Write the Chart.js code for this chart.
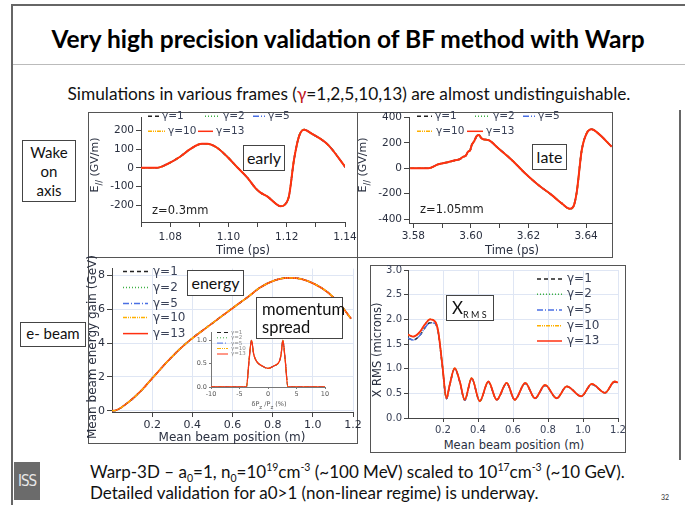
<!DOCTYPE html>
<html>
<head>
<meta charset="utf-8">
<script src="https://cdn.jsdelivr.net/npm/chart.js@4"></script>
<style>
  html, body { margin: 0; padding: 0; background: #fff; }
  #slide { position: relative; width: 685px; height: 505px; overflow: hidden; background: #fff; font-family: Lato, "Open Sans", sans-serif; }
  .abs { position: absolute; white-space: nowrap; }
  .frame { position: absolute; border: 1.5px solid #555; box-sizing: border-box; }
  .tag { position: absolute; border: 1.5px solid #444; background: #fff; box-sizing: border-box; font-family: Lato, sans-serif; color: #111; }
  .ax { position: absolute; white-space: nowrap; font-family: "DejaVu Sans", sans-serif; color: #2a3040; transform: translate(-50%, -50%); }
  .axv { position: absolute; white-space: nowrap; font-family: "DejaVu Sans", sans-serif; color: #2a3040; transform: translate(-50%, -50%) rotate(-90deg); }
  .plot { position: absolute; }
</style>
</head>
<body>
<div id="slide">
  <!-- slide frame -->
  <div class="abs" style="left:11px;top:4px;width:2px;height:501px;background:#666"></div>
  <div class="abs" style="left:11px;top:4px;width:674px;height:2px;background:#666"></div>
  <div class="abs" style="left:13px;top:64px;width:672px;height:1px;background:#bbb"></div>
  <div class="abs" style="left:679px;top:110px;width:1.5px;height:350px;background:#666"></div>

  <div class="abs" style="left:348px;top:38px;transform:translate(-50%,-50%);font-weight:700;font-size:24.5px;color:#000">Very high precision validation of BF method with Warp</div>
  <div class="abs" style="left:349px;top:93px;transform:translate(-50%,-50%);font-size:17.3px;color:#111">Simulations in various frames (<span style="color:#c0141c">γ</span>=1,2,5,10,13) are almost undistinguishable.</div>

  <!-- plot frames -->
  <div class="frame" style="left:88px;top:112px;width:270px;height:146px"></div>
  <div class="frame" style="left:357px;top:112px;width:256px;height:146px"></div>
  <div class="frame" style="left:88px;top:257px;width:270px;height:187px"></div>
  <div class="frame" style="left:370px;top:265px;width:256px;height:188px"></div>

  <div class="tag" style="left:22px;top:140px;width:54px;height:62px;font-size:15px;line-height:19px;text-align:center;padding-top:2px">Wake<br>on<br>axis</div>
  <div class="tag" style="left:20px;top:322px;width:66px;height:25px;font-size:15px;line-height:21px;text-align:center">e- beam</div>

  <div id="p1" class="plot"><canvas></canvas></div>
  <div id="p2" class="plot"><canvas></canvas></div>
  <div id="p3" class="plot"><canvas></canvas></div>
  <div id="p4" class="plot"><canvas></canvas></div>
  <div id="p5" class="plot"><canvas></canvas></div>

  <!-- axis titles -->
  <div class="axv" style="left:96px;top:165px;font-size:11px">E<sub style="font-size:8px">//</sub> (GV/m)</div>
  <div class="ax" style="left:243px;top:250px;font-size:11.5px">Time (ps)</div>
  <div class="axv" style="left:364px;top:165px;font-size:11px">E<sub style="font-size:8px">//</sub> (GV/m)</div>
  <div class="ax" style="left:512px;top:250px;font-size:11.5px">Time (ps)</div>
  <div class="axv" style="left:92px;top:347px;font-size:12px">Mean beam energy gain (GeV)</div>
  <div class="ax" style="left:232px;top:437px;font-size:12px">Mean beam position (m)</div>
  <div class="axv" style="left:377px;top:350px;font-size:11.5px">X RMS (microns)</div>
  <div class="ax" style="left:514px;top:445px;font-size:11.5px">Mean beam position (m)</div>
  <div class="ax" style="left:269px;top:405px;font-size:6.5px;color:#555">δP<sub>z</sub> /P<sub>z</sub>  (%)</div>

  <!-- annotations -->
  <div class="tag" style="left:243px;top:145px;width:42px;height:26px;font-size:16px;line-height:23px;text-align:center">early</div>
  <div class="abs" style="left:152px;top:203px;font-family:'DejaVu Sans',sans-serif;font-size:11.5px;color:#222">z=0.3mm</div>
  <div class="tag" style="left:532px;top:144px;width:35px;height:26px;font-size:16px;line-height:23px;text-align:center">late</div>
  <div class="abs" style="left:420px;top:202px;font-family:'DejaVu Sans',sans-serif;font-size:11.5px;color:#222">z=1.05mm</div>
  <div class="tag" style="left:187px;top:270px;width:57px;height:26px;font-size:16px;line-height:23px;text-align:center">energy</div>
  <div class="tag" style="left:256px;top:297px;width:87px;height:42px;font-size:16.5px;line-height:18px;padding:2px 0 0 5px">momentum<br>spread</div>
  <div class="tag" style="left:446px;top:295px;width:48px;height:26px;font-size:17px;line-height:23px;padding-left:5px">X<span style="font-size:9px;position:relative;top:4px">R M S</span></div>

  <!-- footer -->
  <div class="abs" style="left:90px;top:461px;font-size:17px;color:#111">Warp-3D – a<sub style="font-size:10.5px">0</sub>=1, n<sub style="font-size:10.5px">0</sub>=10<sup style="font-size:10.5px">19</sup>cm<sup style="font-size:10.5px">-3</sup> (~100 MeV) scaled to 10<sup style="font-size:10.5px">17</sup>cm<sup style="font-size:10.5px">-3</sup> (~10 GeV).</div>
  <div class="abs" style="left:90px;top:482px;font-size:17px;color:#111">Detailed validation for a0&gt;1 (non-linear regime) is underway.</div>
  <div class="abs" style="left:14px;top:462px;width:26px;height:38px;background:#6b6b6b;color:#e8e8e8;font-family:'DejaVu Sans Condensed',sans-serif;font-size:15px;line-height:38px;text-align:center;letter-spacing:-1px">ISS</div>
  <div class="abs" style="left:661px;top:493px;font-size:7px;color:#333">32</div>
</div>

<script>
// gamma frames
const gammaLabels = ["γ=1", "γ=2", "γ=5", "γ=10", "γ=13"];

// wake on axis, early (z=0.3mm)
const earlyT = [1.0700, 1.0754, 1.0789, 1.0834, 1.0869, 1.0909, 1.0927, 1.0961, 1.0996, 1.1030, 1.1065, 1.1093, 1.1110, 1.1133, 1.1168, 1.1179, 1.1193, 1.1208, 1.1225, 1.1243, 1.1260, 1.1283, 1.1341, 1.1403];
const earlyE = [0, 0, 19, 59, 100, 128, 128, 107, 59, 3, -53, -109, -133, -153, -198, -206, -198, -149, 43, 172, 204, 185, 124, 0];
const earlyTicks = [1.07, 1.08, 1.09, 1.10, 1.11, 1.12, 1.13, 1.14];
const earlyETicks = [-200, -100, 0, 100, 200];

// wake on axis, late (z=1.05mm)
const lateT = [3.5789, 3.5852, 3.5887, 3.5920, 3.5950, 3.5962, 3.5974, 3.5982, 3.5990, 3.5997, 3.6003, 3.6012, 3.6020, 3.6028, 3.6035, 3.6043, 3.6060, 3.6095, 3.6142, 3.6188, 3.6234, 3.6280, 3.6315, 3.6344, 3.6356, 3.6367, 3.6385, 3.6402, 3.6419, 3.6442, 3.6489];
const lateE = [0, 0, 31, 47, 65, 72, 91, 98, 130, 140, 183, 215, 253, 261, 240, 227, 222, 157, 65, -39, -131, -209, -275, -319, -301, -196, 143, 274, 306, 274, 169];
const lateTicks = [3.58, 3.59, 3.60, 3.61, 3.62, 3.63, 3.64];
const lateETicks = [-400, -200, 0, 200, 400];

// mean beam energy gain
const beamPos = [0, 0.01, 0.074, 0.14, 0.207, 0.274, 0.34, 0.407, 0.474, 0.54, 0.607, 0.674, 0.74, 0.807, 0.874, 0.94, 1.007, 1.074, 1.14, 1.19];
const energyGain = [0, 0, 0.43, 1.12, 2.0, 2.88, 3.67, 4.35, 4.94, 5.53, 6.12, 6.7, 7.3, 7.69, 7.85, 7.79, 7.5, 7.0, 6.22, 5.44];
const posTicks = [0.2, 0.4, 0.6, 0.8, 1.0, 1.2];
const gainTicks = [0, 2, 4, 6, 8];

// momentum spread (inset)
const dpOverP = [-10, -3.8, -3.3, -2.9, -2.5, -2.0, -1.0, 0, 1.0, 2.0, 2.3, 2.6, 3.0, 3.5, 10];
const spread = [0, 0, 0.6, 1.0, 0.7, 0.55, 0.45, 0.40, 0.45, 0.55, 0.7, 1.0, 0.6, 0, 0];
const dpTicks = [-10, -5, 0, 5, 10];
const spreadTicks = [0, 0.5, 1.0];

// x rms
const rmsPos = [0, 0.03, 0.069, 0.095, 0.126, 0.154, 0.173, 0.196, 0.22, 0.238, 0.267, 0.296, 0.324, 0.364, 0.41, 0.459, 0.507, 0.564, 0.61, 0.67, 0.726, 0.783, 0.85, 0.907, 0.99, 1.05, 1.126, 1.18, 1.2];
const xrmsHigh = [1.69, 1.65, 1.75, 1.89, 2.0, 1.96, 1.75, 1.08, 0.40, 0.67, 1.01, 0.74, 0.37, 0.81, 0.34, 0.74, 0.37, 0.71, 0.37, 0.71, 0.40, 0.67, 0.40, 0.64, 0.44, 0.69, 0.51, 0.74, 0.72];
const xrmsLow = [1.62, 1.58, 1.68, 1.82, 1.93, 1.92, 1.72, 1.06, 0.39, 0.66, 1.0, 0.73, 0.36, 0.80, 0.34, 0.73, 0.37, 0.70, 0.37, 0.70, 0.40, 0.66, 0.40, 0.64, 0.44, 0.68, 0.51, 0.73, 0.71];
const rmsTicks = [0, 0.5, 1.0, 1.5, 2.0, 2.5, 3.0];

const gammaColor = ["#222222", "#3cb043", "#4a6fe3", "#ffb000", "#ff3010"];
const gammaDash = [[4, 3], [1, 2], [6, 2, 1, 2], [4, 1, 1, 1, 1, 1], []];

function pts(xs, ys) {
    return xs.map(function (x, i) { return { x: x, y: ys[i] }; });
}

function gammaSets(dataFor, topIndex, width) {
    return gammaLabels.map(function (label, i) {
        return {
            label: label,
            data: dataFor(i),
            borderColor: gammaColor[i],
            borderDash: gammaDash[i],
            borderWidth: i === 4 ? width : width * 0.8,
            pointRadius: 0,
            fill: false,
            cubicInterpolationMode: "monotone",
            order: i === topIndex ? 0 : 5 - i,
        };
    });
}

// draws the small line-sample legends at fixed spots in the plot
const lineKey = {
    id: "lineKey",
    afterDatasetsDraw: function (chart, args, opts) {
        if (!opts.items) return;
        const ctx = chart.ctx, area = chart.chartArea;
        ctx.save();
        ctx.font = opts.size + "px 'DejaVu Sans'";
        ctx.textBaseline = "middle";
        chart.data.datasets.forEach(function (ds, i) {
            const it = opts.items[i];
            const x = area.left + it[0], y = area.top + it[1];
            ctx.strokeStyle = ds.borderColor;
            ctx.lineWidth = opts.lineWidth;
            ctx.setLineDash(ds.borderDash || []);
            ctx.beginPath();
            ctx.moveTo(x, y);
            ctx.lineTo(x + it[2], y);
            ctx.stroke();
            ctx.setLineDash([]);
            ctx.fillStyle = opts.color;
            ctx.fillText(ds.label, x + it[2] + opts.gap, y);
        });
        ctx.restore();
    },
};
Chart.register(lineKey);

function plot(id, box, m, cfg) {
    const div = document.getElementById(id);
    div.style.left = (box.l - m.l) + "px";
    div.style.top = (box.t - m.t) + "px";
    div.style.width = (box.r - box.l + m.l + m.r) + "px";
    div.style.height = (box.b - box.t + m.t + m.b) + "px";

    const tickFont = { family: "'DejaVu Sans'", size: cfg.fontSize };
    const grid = {
        display: true,
        drawOnChartArea: !!cfg.grid,
        color: cfg.grid || "#444",
        tickColor: cfg.axisColor,
        tickLength: cfg.tickLength,
    };

    return new Chart(div.querySelector("canvas"), {
        type: "line",
        data: { datasets: cfg.datasets },
        options: {
            responsive: true,
            maintainAspectRatio: false,
            animation: false,
            layout: { padding: { top: m.t, right: m.r, left: 0, bottom: 0 } },
            plugins: {
                legend: { display: false },
                tooltip: { enabled: false },
                lineKey: cfg.key,
            },
            scales: {
                x: {
                    type: "linear",
                    min: cfg.x[0],
                    max: cfg.x[1],
                    afterFit: function (s) { s.height = m.b; },
                    afterBuildTicks: function (s) { s.ticks = cfg.x[2].map(function (v) { return { value: v }; }); },
                    border: { color: cfg.axisColor, width: 1 },
                    grid: grid,
                    ticks: {
                        autoSkip: false,
                        maxRotation: 0,
                        padding: cfg.tickPad,
                        color: cfg.tickColor,
                        font: tickFont,
                        callback: cfg.x[3],
                    },
                },
                y: {
                    type: "linear",
                    min: cfg.y[0],
                    max: cfg.y[1],
                    afterFit: function (s) { s.width = m.l; },
                    afterBuildTicks: function (s) { s.ticks = cfg.y[2].map(function (v) { return { value: v }; }); },
                    border: { color: cfg.axisColor, width: 1 },
                    grid: grid,
                    ticks: {
                        autoSkip: false,
                        padding: 2,
                        color: cfg.tickColor,
                        font: tickFont,
                        callback: cfg.y[3],
                    },
                },
            },
        },
    });
}

function everyOther(v) {
    return Math.round(v * 100) % 2 === 0 ? v.toFixed(2) : "";
}
function noZero(v) {
    return v === 0 ? "" : v.toFixed(1);
}
function plain(v) {
    return v;
}
function oneDec(v) {
    return v.toFixed(1);
}

plot("p1", { l: 141, t: 117, r: 345, b: 222 }, { l: 40, t: 8, r: 18, b: 26 }, {
    x: [1.07, 1.14, earlyTicks, everyOther],
    y: [-290, 270, earlyETicks, plain],
    datasets: gammaSets(function () { return pts(earlyT, earlyE); }, 4, 2),
    fontSize: 10.5, tickLength: 5, tickPad: 4, axisColor: "#444", tickColor: "#2a3040",
    key: { items: [[7, -1, 11], [64, -1, 15], [112, -1, 12], [7, 14, 17], [57, 14, 15]], size: 10.5, gap: 3, lineWidth: 1.5, color: "#3a4258" },
});

plot("p2", { l: 409, t: 117, r: 612, b: 223 }, { l: 40, t: 8, r: 18, b: 24 }, {
    x: [3.5785, 3.649, lateTicks, everyOther],
    y: [-430, 400, lateETicks, plain],
    datasets: gammaSets(function () { return pts(lateT, lateE); }, 4, 2),
    fontSize: 10.5, tickLength: 5, tickPad: 2, axisColor: "#444", tickColor: "#2a3040",
    key: { items: [[8, -1, 15], [66, -1, 15], [114, -1, 12], [8, 14, 16], [58, 14, 16]], size: 10.5, gap: 3, lineWidth: 1.5, color: "#3a4258" },
});

plot("p3", { l: 112, t: 268, r: 353, b: 412 }, { l: 30, t: 8, r: 14, b: 20 }, {
    x: [0, 1.2, posTicks, noZero],
    y: [-0.08, 8.4, gainTicks, plain],
    datasets: gammaSets(function () { return pts(beamPos, energyGain); }, 3, 1.8),
    fontSize: 11, tickLength: 5, tickPad: 2, axisColor: "#444", tickColor: "#2a3040",
    grid: "#dfe6f4",
    key: { items: [[11, 3, 25], [11, 19, 25], [11, 35, 25], [11, 49, 25], [11, 65, 25]], size: 12, gap: 5, lineWidth: 1.5, color: "#3a4258" },
});

plot("p4", { l: 211, t: 332, r: 325, b: 387 }, { l: 20, t: 6, r: 10, b: 12 }, {
    x: [-10, 10, dpTicks, plain],
    y: [0, 1.18, spreadTicks, oneDec],
    datasets: gammaSets(function () { return pts(dpOverP, spread); }, 4, 1.3),
    fontSize: 6.5, tickLength: 2, tickPad: 1, axisColor: "#777", tickColor: "#555",
    key: { items: [[6, 0.5, 11], [6, 5.8, 11], [6, 11.1, 11], [6, 16.5, 11], [6, 22, 11]], size: 5.5, gap: 3, lineWidth: 1, color: "#888" },
});

plot("p5", { l: 408, t: 270, r: 618, b: 418 }, { l: 30, t: 8, r: 14, b: 20 }, {
    x: [0, 1.2, posTicks, noZero],
    y: [0, 3.0, rmsTicks, oneDec],
    datasets: gammaSets(function (i) { return pts(rmsPos, (i === 0 || i === 2) ? xrmsLow : xrmsHigh); }, 4, 1.8),
    fontSize: 10, tickLength: 4, tickPad: 2, axisColor: "#444", tickColor: "#3a4258",
    grid: "#dfe6f4",
    key: { items: [[129, 9, 25], [129, 24.3, 25], [129, 40, 25], [129, 55.7, 25], [129, 71, 25]], size: 12, gap: 5, lineWidth: 1.5, color: "#3a4258" },
});
</script>
</body>
</html>
